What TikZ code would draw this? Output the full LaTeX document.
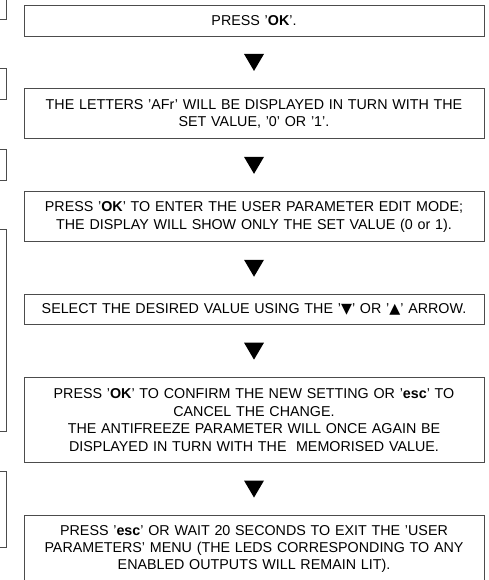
\documentclass[tikz,border=0pt]{standalone}
\usepackage{fontspec}
\setmainfont{Liberation Sans}
\newfontfamily\symfont{DejaVu Sans}
\usetikzlibrary{positioning}
\newcommand{\kbd}[1]{\textbf{#1}}

\begin{document}
\begin{tikzpicture}[x=1pt, y=-1pt,
    font=\fontsize{14.3}{17.4}\selectfont,
    stepbox/.style={draw=black!70, line width=0.9pt, rectangle, text width=450pt, inner xsep=5pt, inner ysep=0pt, align=center},
    sidebox/.style={draw=black!70, line width=0.9pt},
    node distance=52pt
]
    \useasboundingbox (0,0) rectangle (488,580);
    \clip (0,0) rectangle (488,580);

    % boxes cut off at the left edge
    \foreach \t/\b in {-5/19, 68/99, 149/180, 229/431, 471/547}
        \draw[sidebox] (-10,\t) rectangle (6,\b);

    \node[stepbox, minimum height=31pt] (ok) at (254,20.5) {PRESS '\kbd{OK}'.};
    \node[stepbox, minimum height=50pt, below=of ok] (afr)
        {THE LETTERS 'AFr' WILL BE DISPLAYED IN TURN WITH THE\\ SET VALUE, '0' OR '1'.};
    \node[stepbox, minimum height=50pt, below=of afr] (edit)
        {PRESS '\kbd{OK}' TO ENTER THE USER PARAMETER EDIT MODE;\\ THE DISPLAY WILL SHOW ONLY THE SET VALUE (0 or 1).};
    \node[stepbox, minimum height=30pt, below=of edit] (sel)
        {SELECT THE DESIRED VALUE USING THE '{\symfont ▼}' OR '{\symfont ▲}' ARROW.};
    \node[stepbox, minimum height=85pt, below=of sel] (conf)
        {PRESS '\kbd{OK}' TO CONFIRM THE NEW SETTING OR '\kbd{esc}' TO\\ CANCEL THE CHANGE.\\
         THE ANTIFREEZE PARAMETER WILL ONCE AGAIN BE\\ DISPLAYED IN TURN WITH THE \ MEMORISED VALUE.};
    \node[stepbox, minimum height=67pt, below=of conf] (exit)
        {PRESS '\kbd{esc}' OR WAIT 20 SECONDS TO EXIT THE 'USER\\ PARAMETERS' MENU (THE LEDS CORRESPONDING TO ANY\\ ENABLED OUTPUTS WILL REMAIN LIT).};

    % black triangles between the steps
    \foreach \a/\b in {ok/afr, afr/edit, edit/sel, sel/conf, conf/exit} {
        \path (\a.south) -- coordinate (m) (\b.north);
        \fill (m) ++(-10,-8.5) -- ++(20,0) -- ++(-10,17) -- cycle;
    }
\end{tikzpicture}
\end{document}
